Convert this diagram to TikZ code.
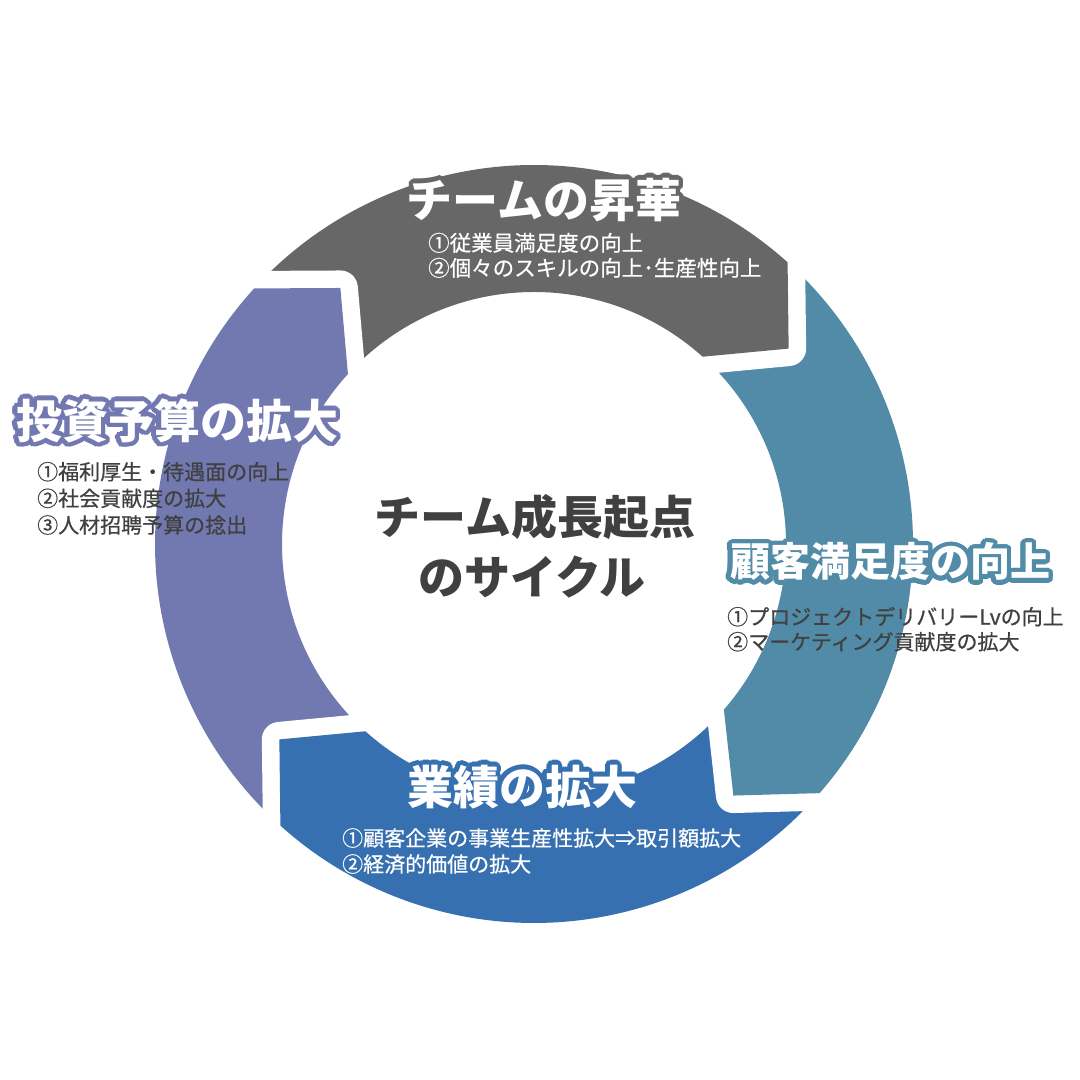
\documentclass[tikz,border=0pt]{standalone}
\usepackage{fontspec}
\newfontfamily\jp{Noto Sans CJK JP}
\newfontfamily\jpm{Noto Sans CJK JP}[FakeBold=0.6]
\definecolor{cgray}{HTML}{666766}
\definecolor{cpurple}{HTML}{7278B0}
\definecolor{cteal}{HTML}{518BA7}
\definecolor{cblue}{HTML}{3670B0}
\definecolor{ctext}{HTML}{404040}
\tikzset{
  segment/.style 2 args={insert path={(#1:379pt) arc[start angle=#1,end angle=#2,radius=379pt]
     -- ({#2-10.5}:321pt) -- (#2:252pt) arc[start angle=#2,end angle=#1,radius=252pt] -- cycle}},
  segfill/.style={preaction={draw=white,line width=35pt,line join=round}, fill=#1},
  titlefont/.style={font=\jp\bfseries\fontsize{#1}{#1}\selectfont, inner sep=0pt},
  subfont/.style={font=\jpm\fontsize{#1}{#1}\selectfont, inner sep=0pt, anchor=base west},
}
% outlined title: options, name, position, outline colour, text
\newcommand\outlined[5]{%
  \foreach \k in {0,15,...,345}{\node[#1, text=#4, shift={(\k:4.5pt)}] at #3 {#5};}
  \node[#1, text=white] (#2) at #3 {#5};
}
\begin{document}
\begin{tikzpicture}[x=1pt,y=1pt]
\useasboundingbox (0,0) rectangle (1080,1080);
\fill[white] (0,0) rectangle (1080,1080);
\begin{scope}[shift={(534,536)}]
  \fill[segfill=cpurple, segment={235.5}{137.6}];
  \fill[segfill=cblue, segment={326.4}{228}];
  \fill[segfill=cteal, segment={55.5}{-41.1}];
  \fill[segfill=cgray, segment={145.1}{48}];
  \begin{scope}
    \clip (-600,0) rectangle (0,600);
    \fill[segfill=cpurple, segment={235.5}{137.6}];
  \end{scope}
\end{scope}
% top
\outlined{titlefont=46, anchor=base}{t1}{(544,862.5)}{cgray}{チームの昇華}
\node[subfont=21.5, text=white] (t1a) at (428,829) {①従業員満足度の向上};
\node[subfont=21.5, text=white] (t1b) at (428,804) {②個々のスキルの向上･生産性向上};
% left
\outlined{titlefont=46, anchor=base west}{t2}{(16,641.5)}{cpurple}{投資予算の拡大}
\node[subfont=21, text=ctext] (t2a) at (37,600.3) {①福利厚生・待遇面の向上};
\node[subfont=21, text=ctext] (t2b) at (37,573.7) {②社会貢献度の拡大};
\node[subfont=21, text=ctext] (t2c) at (37,547) {③人材招聘予算の捻出};
% right
\outlined{titlefont=40, anchor=base west}{t3}{(730,503)}{cteal}{顧客満足度の向上}
\node[subfont=21, text=ctext] (t3a) at (727,455.3) {①プロジェクトデリバリーLvの向上};
\node[subfont=21, text=ctext] (t3b) at (727,430.3) {②マーケティング貢献度の拡大};
% bottom
\outlined{titlefont=46, anchor=base}{t4}{(522,275.5)}{cblue}{業績の拡大}
\node[subfont=21, text=white] (t4a) at (342,234) {①顧客企業の事業生産性拡大⇒取引額拡大};
\node[subfont=21, text=white] (t4b) at (342,208) {②経済的価値の拡大};
% centre
\node[titlefont=46, anchor=base, text=ctext] (c1) at (535,545.5) {チーム成長起点};
\node[titlefont=46, anchor=base, text=ctext] (c2) at (532,485.5) {のサイクル};
\end{tikzpicture}
\end{document}
